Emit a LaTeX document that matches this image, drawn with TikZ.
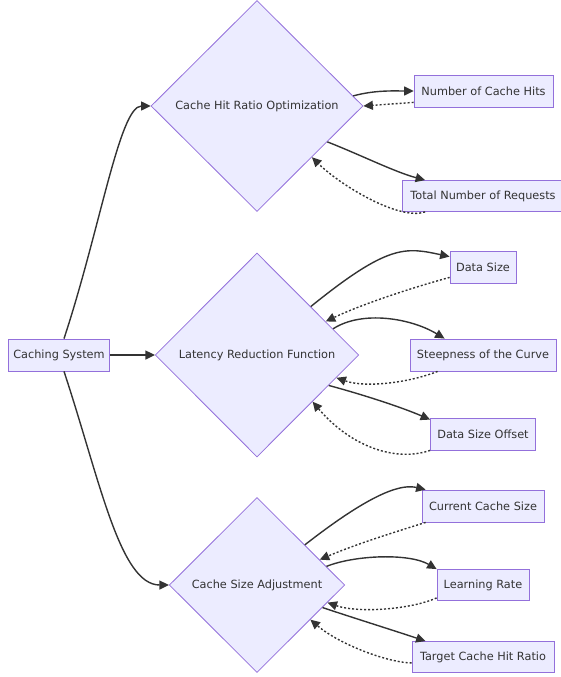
\documentclass[tikz,border=0pt]{standalone}
\usepackage{fontspec}
\setmainfont{DejaVu Sans}
\usetikzlibrary{shapes.geometric,arrows.meta}
\definecolor{nodefill}{HTML}{ECECFF}
\definecolor{nodeline}{HTML}{9370DB}
\definecolor{edgecol}{HTML}{333333}
\begin{document}
\begin{tikzpicture}[x=1pt,y=-1pt,
  every node/.style={font=\fontsize{11.3}{13}\selectfont, text=edgecol},
  box/.style={draw=nodeline, fill=nodefill, line width=0.8pt, minimum height=32pt, inner sep=0pt},
  dia/.style={diamond, aspect=1, draw=nodeline, fill=nodefill, line width=0.8pt, inner sep=0pt},
  link/.style={draw=edgecol, line width=1.4pt, -{Triangle[length=9.5pt,width=9pt]}},
  back/.style={link, dash pattern=on 2pt off 2pt}]
\useasboundingbox (0,0) rectangle (561,677);
% decision nodes
\node[dia, minimum width=212pt, minimum height=211pt] (d1) at (257,106) {Cache Hit Ratio Optimization};
\node[dia, minimum width=203.5pt, minimum height=204pt] (d2) at (257,355) {Latency Reduction Function};
\node[dia, minimum width=175.5pt, minimum height=175pt] (d3) at (257,585) {Cache Size Adjustment};
% boxes
\node[box, minimum width=101pt] (cs) at (59,355) {Caching System};
\node[box, minimum width=139pt] (hits) at (483.5,91) {Number of Cache Hits};
\node[box, minimum width=161pt, minimum height=31pt] (total) at (483,196) {Total Number of Requests};
\node[box, minimum width=66pt] (dsize) at (483,267) {Data Size};
\node[box, minimum width=146pt] (steep) at (483,355) {Steepness of the Curve};
\node[box, minimum width=105pt] (dsoff) at (483,434) {Data Size Offset};
\node[box, minimum width=122pt] (cur) at (483,506) {Current Cache Size};
\node[box, minimum width=92pt, minimum height=31pt] (lr) at (483,585) {Learning Rate};
\node[box, minimum width=142pt, minimum height=31pt] (target) at (483,657) {Target Cache Hit Ratio};
% root edges
\draw[link] ([xshift=5pt]cs.north) .. controls +(36,-109) and +(-31,0) .. (d1.west);
\draw[link] ([xshift=5pt]cs.south) .. controls +(36,109) and +(-49,0) .. (d3.west);
\draw[link] (cs.east) -- (d2.west);
% d1
\draw[link] (d1.6) .. controls +(22,-6) and +(-19,0) .. (hits.west);
\draw[back] ([yshift=5pt]hits.south west) -- (d1.east);
\draw[link] (d1.-27) .. controls +(36,14.3) and +(-30,-8) .. ([xshift=23pt]total.north west);
\draw[back] ([xshift=23pt]total.south west) .. controls +(-26,9) and +(28.3,28) .. (d1.-43);
% d2
\draw[link] (d2.42) .. controls +(77.7,-62.9) and +(-44,-9.4) .. ([yshift=-6pt]dsize.north west);
\draw[back] ([yshift=6pt]dsize.south west) .. controls +(-40,11) and +(34.5,-16.6) .. (d2.26);
\draw[link] (d2.19) .. controls +(29.3,-18.9) and +(-33.4,-20.3) .. ([xshift=35pt]steep.north west);
\draw[back] ([xshift=28pt]steep.south west) .. controls +(-28.3,11.3) and +(28.9,10.3) .. (d2.-16);
\draw[link] (d2.-23) .. controls +(30,8) and +(-30,-13) .. ([yshift=-2pt]dsoff.north west);
\draw[back] (dsoff.south west) .. controls +(-35,12) and +(37.6,44.5) .. (d2.-40);
% d3
\draw[link] (d3.40) .. controls +(71,-55.4) and +(-22.8,-5.3) .. ([xshift=4pt]cur.north west);
\draw[back] ([xshift=4pt]cur.south west) .. controls +(-35,11) and +(35,-15) .. (d3.22);
\draw[link] (d3.15) .. controls +(28.8,-11.5) and +(-27,-16) .. (lr.north west);
\draw[back] ([yshift=3pt]lr.south west) .. controls +(-27,12) and +(29.8,10.5) .. (d3.-14);
\draw[link] (d3.-19) .. controls +(30,10) and +(-30,-10) .. ([xshift=14pt]target.north west);
\draw[back] ([yshift=10pt]target.south west) .. controls +(-22,0) and +(29.9,25.5) .. (d3.-33);
\end{tikzpicture}
\end{document}
